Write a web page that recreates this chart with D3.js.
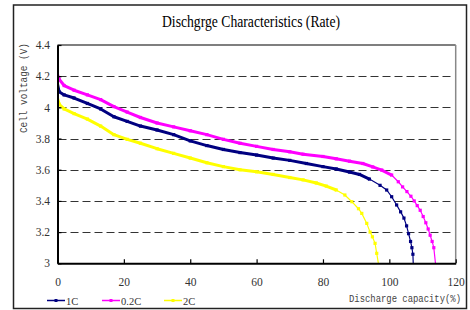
<!DOCTYPE html>
<html>
<head>
<meta charset="utf-8">
<script src="https://cdn.jsdelivr.net/npm/d3@7"></script>
<style>
  body { margin: 0; background: #fff; }
  svg { display: block; }
</style>
</head>
<body>
<div id="chart"></div>
<script>
// readings: [capacity %, voltage V]
const rate02C = [[0,4.21],[0.5,4.18],[2,4.14],[5,4.11],[9,4.08],[13,4.05],[17,4.005],[21,3.97],[25,3.935],
  [30,3.90],[35,3.875],[40,3.85],[45,3.825],[50,3.795],[55,3.77],[60,3.75],[65,3.73],[70,3.715],[74,3.70],
  [80,3.685],[84,3.67],[88,3.655],[92,3.64],[95,3.618],[97.7,3.598],[100.7,3.566],[102.7,3.523],[104,3.49],
  [105.3,3.46],[106.5,3.43],[107.5,3.40],[108.4,3.37],[109.3,3.34],[110.2,3.30],[111,3.26],[111.7,3.22],
  [112.3,3.18],[112.9,3.14],[113.4,3.10],[113.9,3.0]];
const rate1C = [[0,4.15],[0.5,4.10],[2,4.08],[5,4.06],[9,4.025],[13,3.99],[17,3.94],[21,3.91],[25,3.88],
  [30,3.855],[35,3.825],[40,3.785],[45,3.755],[50,3.73],[55,3.71],[60,3.694],[65,3.675],[70,3.66],[75,3.64],
  [80,3.62],[84,3.605],[88,3.585],[91,3.57],[94,3.54],[97.2,3.50],[99.2,3.47],[100.7,3.427],[102.2,3.374],
  [103.4,3.33],[104.4,3.29],[105.2,3.24],[105.8,3.19],[106.4,3.14],[106.8,3.10],[107.1,3.058],[107.2,3.0]];
const rate2C = [[0,4.06],[0.5,4.02],[2,3.99],[5,3.96],[9,3.925],[13,3.88],[17,3.825],[21,3.795],[25,3.77],
  [30,3.735],[35,3.705],[40,3.675],[45,3.645],[50,3.62],[55,3.60],[60,3.587],[65,3.57],[70,3.55],[74,3.535],
  [78,3.515],[81,3.495],[84,3.47],[86.6,3.438],[88.7,3.395],[90.7,3.35],[91.7,3.32],[93.2,3.256],[94.2,3.20],
  [94.9,3.17],[95.7,3.128],[96.2,3.064],[96.7,3.0]];

const seriesNames = ["1C", "0.2C", "2C"];
const seriesColors = ["#000080", "#ff00ff", "#ffff00"];
const seriesData = [rate1C, rate02C, rate2C];

const xTicks = [0, 20, 40, 60, 80, 100, 120];
const yTicks = [3, 3.2, 3.4, 3.6, 3.8, 4, 4.2, 4.4];

const width = 470, height = 310;
const svg = d3.select("#chart").append("svg")
  .attr("width", width)
  .attr("height", height);

const pLeft = 57.5, pRight = 455.7, pTop = 45, pBottom = 263.3;

const x = d3.scaleLinear().domain([0, 120]).range([pLeft, pRight]);
const y = d3.scaleLinear().domain([3, 4.4]).range([pBottom, pTop]);

// outer frame
svg.append("rect")
  .attr("x", 13.5).attr("y", 5).attr("width", 453).attr("height", 303.5)
  .attr("fill", "none").attr("stroke", "#222").attr("stroke-width", 1.5);

// title
svg.append("text")
  .attr("x", 162).attr("y", 26.5)
  .attr("textLength", 178).attr("lengthAdjust", "spacingAndGlyphs")
  .style("font-family", "'Liberation Serif', serif")
  .style("font-size", "16px")
  .attr("fill", "#000")
  .text("Dischgrge Characteristics (Rate)");

// grid
svg.append("g").selectAll("line")
  .data(yTicks.filter(d => d > 3 && d < 4.4))
  .enter().append("line")
  .attr("x1", pLeft + 1).attr("x2", pRight - 2)
  .attr("y1", d => Math.round(y(d)) + 0.5).attr("y2", d => Math.round(y(d)) + 0.5)
  .attr("stroke", "#333").attr("stroke-width", 1)
  .attr("stroke-dasharray", "8,4");

// plot frame top and right
svg.append("line").attr("x1", pLeft).attr("x2", pRight).attr("y1", pTop).attr("y2", pTop)
  .attr("stroke", "#000").attr("stroke-width", 1.2);
svg.append("line").attr("x1", pRight).attr("x2", pRight).attr("y1", pTop).attr("y2", pBottom)
  .attr("stroke", "#888").attr("stroke-width", 1.5);

svg.append("clipPath").attr("id", "plot")
  .append("rect").attr("x", pLeft).attr("y", pTop).attr("width", pRight - pLeft).attr("height", pBottom - pTop);

const line = d3.line().x(d => x(d[0])).y(d => y(d[1]));
const plot = svg.append("g").attr("clip-path", "url(#plot)");

// 2C first, 1C on top
[2, 1, 0].forEach(i => {
  const data = seriesData[i];
  const color = seriesColors[i];
  // where the curve is flat the original markers overlap into a thick line
  let end = data.length - 1;
  for (let k = 1; k < data.length; k++) {
    const slope = (data[k - 1][1] - data[k][1]) / (data[k][0] - data[k - 1][0]);
    if (data[k][0] > 50 && slope > 0.012) { end = k - 1; break; }
  }
  const flat = data.slice(0, end + 1);
  plot.append("path").datum(data)
    .attr("d", line).attr("fill", "none")
    .attr("stroke", color).attr("stroke-width", 1.2);
  plot.append("path").datum(flat)
    .attr("d", line).attr("fill", "none")
    .attr("stroke", color).attr("stroke-width", 3)
    .attr("stroke-linejoin", "round");
  plot.append("g").selectAll("rect")
    .data(data.slice(1, -1))
    .enter().append("rect")
    .attr("x", d => x(d[0]) - 1.6).attr("y", d => y(d[1]) - 1.6)
    .attr("width", 3.2).attr("height", 3.2)
    .attr("fill", color);
});

// axes
const xAxis = d3.axisBottom(x).tickValues(xTicks).tickSizeInner(-4).tickSizeOuter(0).tickPadding(15);
const yAxis = d3.axisLeft(y).tickValues(yTicks).tickSizeInner(-4).tickSizeOuter(0).tickPadding(7.5)
  .tickFormat(d => d3.format("")(+d.toFixed(1)));

const gx = svg.append("g").attr("transform", `translate(0, ${pBottom})`).call(xAxis);
const gy = svg.append("g").attr("transform", `translate(${pLeft}, 0)`).call(yAxis);

[gx, gy].forEach(g => {
  g.attr("font-family", "'Liberation Serif', serif").attr("font-size", 11.5);
  g.select(".domain").attr("stroke", "#000").attr("stroke-width", 2);
  g.selectAll(".tick line").attr("stroke", "#000").attr("stroke-width", 1.2);
  g.selectAll("text").attr("fill", "#333");
});

// axis titles
svg.append("text")
  .attr("transform", "translate(27, 88) rotate(-90)")
  .attr("text-anchor", "middle")
  .attr("textLength", 90).attr("lengthAdjust", "spacingAndGlyphs")
  .style("font-family", "'Liberation Mono', monospace")
  .style("font-size", "11px")
  .attr("fill", "#444")
  .text("Cell voltage (V)");

svg.append("text")
  .attr("x", 349).attr("y", 302)
  .attr("textLength", 112).attr("lengthAdjust", "spacingAndGlyphs")
  .style("font-family", "'Liberation Mono', monospace")
  .style("font-size", "10.5px")
  .attr("fill", "#444")
  .text("Discharge capacity(%)");

// legend
const legendX = [47, 102, 164];
const legend = svg.append("g").selectAll("g")
  .data(seriesNames)
  .enter().append("g")
  .attr("transform", (d, i) => `translate(${legendX[i]}, 300.5)`);

legend.append("line")
  .attr("x1", 0).attr("x2", 18).attr("y1", 0).attr("y2", 0)
  .attr("stroke", (d, i) => seriesColors[i]).attr("stroke-width", 1.5);
legend.append("rect")
  .attr("x", 7.5).attr("y", -1.5).attr("width", 3).attr("height", 3)
  .attr("fill", (d, i) => seriesColors[i]);
legend.append("text")
  .attr("x", 19).attr("y", 4)
  .style("font-family", "'Liberation Serif', serif")
  .style("font-size", "10.5px")
  .attr("fill", "#333")
  .text(d => d);
</script>
</body>
</html>
